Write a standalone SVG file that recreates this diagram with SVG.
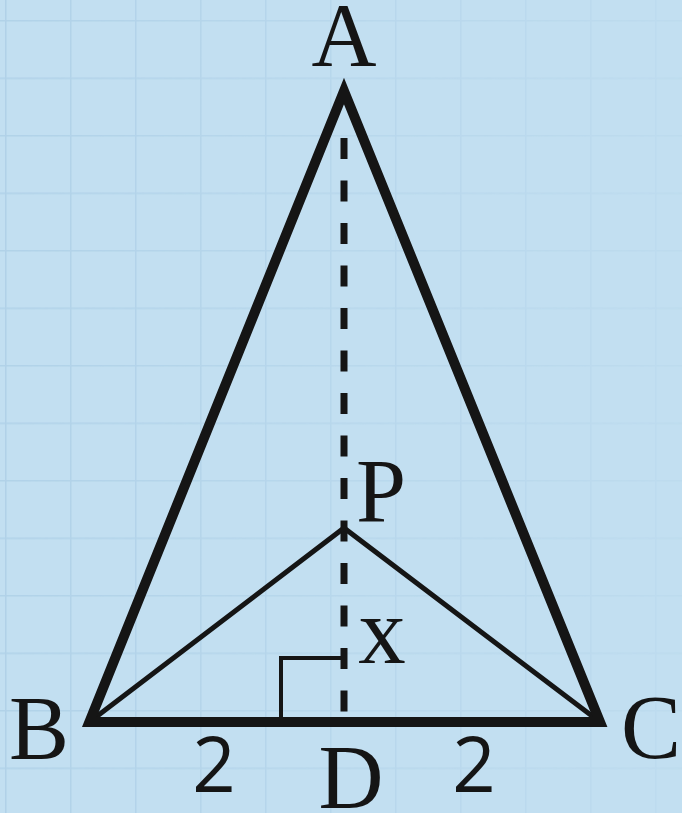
<svg xmlns="http://www.w3.org/2000/svg" width="682" height="813" viewBox="0 0 682 813">
  <defs>
    <pattern id="grid" patternUnits="userSpaceOnUse" x="5" y="20" width="65" height="57.5">
      <path d="M0 0 V57.5 M0 0 H65" fill="none" stroke="#b0d1e8" stroke-width="3"/>
    </pattern>
    <linearGradient id="maskGrad" x1="0" y1="0" x2="1" y2="0">
      <stop offset="0" stop-color="#fff" stop-opacity="1"/>
      <stop offset="0.5" stop-color="#fff" stop-opacity="0.6"/>
      <stop offset="1" stop-color="#fff" stop-opacity="0.25"/>
    </linearGradient>
    <mask id="fade">
      <rect x="0" y="0" width="682" height="813" fill="url(#maskGrad)"/>
    </mask>
  </defs>
  <style>
    .thick { fill: none; stroke: #151515; stroke-width: 10; stroke-linejoin: miter; }
    .thin { fill: none; stroke: #151515; stroke-width: 5; stroke-linecap: round; }
    .dash { fill: none; stroke: #151515; stroke-width: 7; stroke-dasharray: 21 21.5; }
    .mark { fill: none; stroke: #151515; stroke-width: 4; }
    .lbl { font-family: "Liberation Serif", "Times New Roman", serif; font-size: 90px; fill: #151515; text-anchor: middle; }
    .num { font-family: "Open Sans", "Liberation Sans", sans-serif; font-size: 76px; font-weight: 500; fill: #151515; text-anchor: middle; }
  </style>
  <rect id="background" x="0" y="0" width="682" height="813" fill="#c2dff1"/>
  <rect id="gridlines" x="0" y="0" width="682" height="813" fill="url(#grid)" mask="url(#fade)"/>

  <g id="connectors">
    <line class="dash" x1="344" y1="138" x2="344" y2="722"/>
    <polyline class="thin" points="89.4,722 344,528 600,722"/>
    <polyline class="mark" points="281,722 281,658 344,658"/>
    <polygon class="thick" points="344,91 89.4,722 600,722"/>
  </g>

  <g id="node-A"><text class="lbl" x="344" y="66">A</text></g>
  <g id="node-B"><text class="lbl" x="39" y="759">B</text></g>
  <g id="node-C"><text class="lbl" x="651" y="758">C</text></g>
  <g id="node-D"><text class="lbl" x="351" y="808">D</text></g>
  <g id="node-P"><text class="lbl" x="381" y="522">P</text></g>
  <g id="label-x"><text class="lbl" x="382" y="663" style="font-size:95px">x</text></g>
  <g id="label-BD"><text class="num" x="214" y="792">2</text></g>
  <g id="label-DC"><text class="num" x="474" y="792">2</text></g>
</svg>
